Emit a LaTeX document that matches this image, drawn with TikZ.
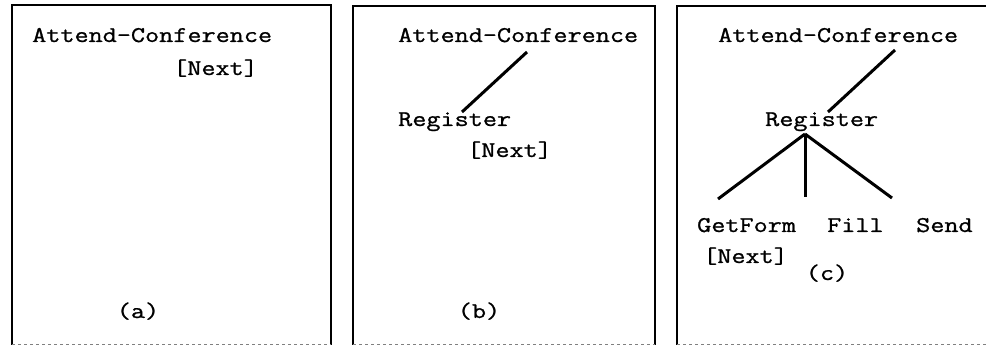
\documentclass[tikz,border=0pt]{standalone}
\usepackage{fontspec}
\newfontfamily\typewriter[FakeBold=0.9]{Latin Modern Mono}

\newcommand{\squash}[1]{\scalebox{1}[0.82]{#1}}

\begin{document}
\begin{tikzpicture}[x=1pt,y=-1pt,
        lbl/.style={font=\typewriter\fontsize{27.4}{30}\selectfont, inner sep=0pt, anchor=base west},
        panelname/.style={lbl, anchor=base},
        link/.style={line width=3pt},
        frame/.style={line width=2.5pt},
        rim/.style={gray, dashed, line width=1pt}]
    \useasboundingbox (0,0) rectangle (986,347);

    % the three frames
    \draw[frame] (12,345) |- (331,5) -- (331,345);
    \draw[frame] (353,345) |- (655,6) -- (655,345);
    \draw[frame] (677,345) |- (992,6);
    \draw[rim] (12,345) -- (331,345);
    \draw[rim] (353,345) -- (655,345);
    \draw[rim] (677,345) -- (992,345);

    % (a)
    \node[lbl] (attA) at (32,42) {\squash{Attend-Conference}};
    \node[lbl] (nextA) at (173,75) {\squash{[Next]}};
    \node[panelname] (nameA) at (138,318) {\squash{(a)}};

    % (b)
    \node[lbl] (attB) at (398,42) {\squash{Attend-Conference}};
    \node[lbl] (regB) at (398,126) {\squash{Register}};
    \node[lbl] (nextB) at (467,157) {\squash{[Next]}};
    \node[panelname] (nameB) at (479,318) {\squash{(b)}};
    \draw[link] ([shift={(129,10)}]attB.base west) -- ([shift={(64,-14)}]regB.base west);

    % (c)
    \node[lbl] (attC) at (718,42) {\squash{Attend-Conference}};
    \node[lbl] (regC) at (765,126) {\squash{Register}};
    \node[lbl] (getC) at (697,232) {\squash{GetForm}};
    \node[lbl] (fillC) at (827,232) {\squash{Fill}};
    \node[lbl] (sendC) at (916,232) {\squash{Send}};
    \node[lbl] (nextC) at (703,263) {\squash{[Next]}};
    \node[panelname] (nameC) at (827,280) {\squash{(c)}};
    \draw[link] ([shift={(177,8)}]attC.base west) -- ([shift={(63,-14)}]regC.base west);
    \coordinate (fork) at ([shift={(40,8)}]regC.base west);
    \draw[link] (fork) -- ([shift={(21,-33)}]getC.base west);
    \draw[link] (fork) -- ([shift={(-22,-35)}]fillC.base west);
    \draw[link] (fork) -- ([shift={(-24,-34)}]sendC.base west);
\end{tikzpicture}
\end{document}
